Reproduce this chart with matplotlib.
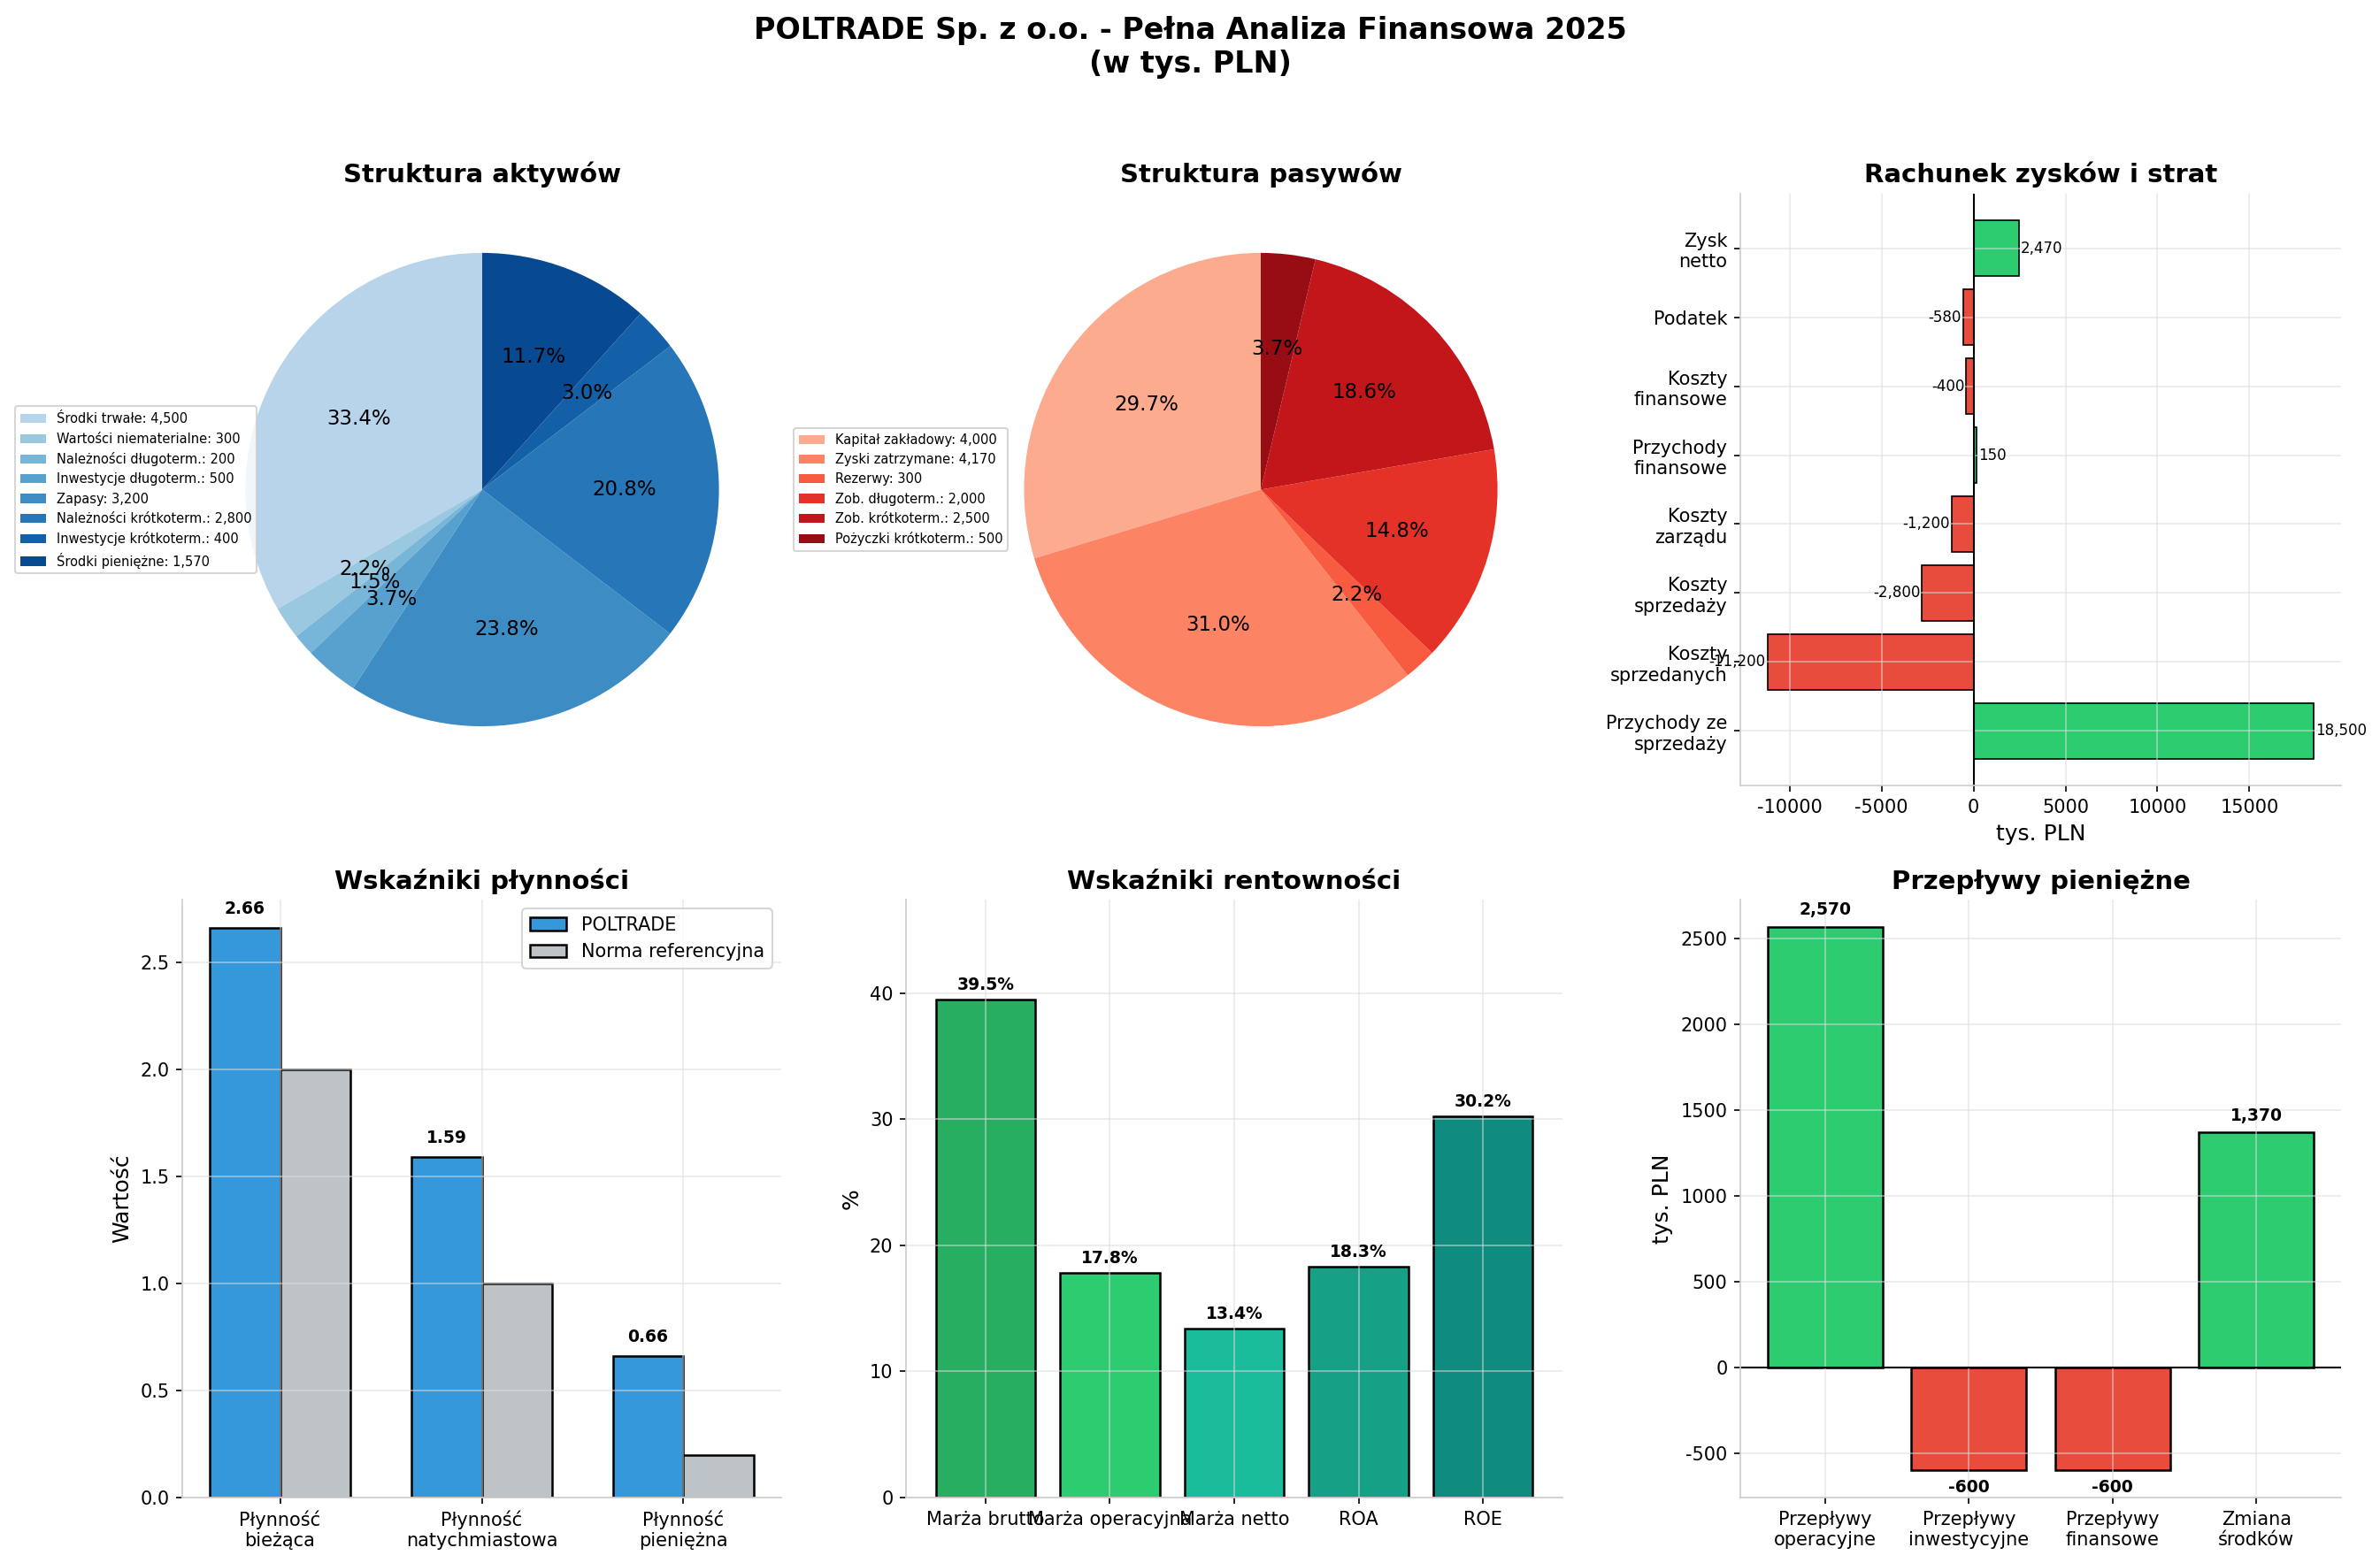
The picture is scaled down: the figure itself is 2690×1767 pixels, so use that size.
import numpy as np
import matplotlib
matplotlib.use("Agg")
import matplotlib.pyplot as plt

plt.rcParams['axes.unicode_minus'] = False

# --- dane (tys. PLN) ---
aktywa_labels = ['Środki trwałe', 'Wartości niematerialne', 'Należności długoterm.',
                 'Inwestycje długoterm.', 'Zapasy', 'Należności krótkoterm.',
                 'Inwestycje krótkoterm.', 'Środki pieniężne']
aktywa_vals = [4500, 300, 200, 500, 3200, 2800, 400, 1570]

pasywa_labels = ['Kapitał zakładowy', 'Zyski zatrzymane', 'Rezerwy',
                 'Zob. długoterm.', 'Zob. krótkoterm.', 'Pożyczki krótkoterm.']
pasywa_vals = [4000, 4170, 300, 2000, 2500, 500]

rzis_labels = ['Przychody ze\nsprzedaży', 'Koszty\nsprzedanych', 'Koszty\nsprzedaży',
               'Koszty\nzarządu', 'Przychody\nfinansowe', 'Koszty\nfinansowe',
               'Podatek', 'Zysk\nnetto']
rzis_vals = [18500, -11200, -2800, -1200, 150, -400, -580, 2470]

plyn_labels = ['Płynność\nbieżąca', 'Płynność\nnatychmiastowa', 'Płynność\npieniężna']
plyn_firma = [2.66, 1.59, 0.66]
plyn_norma = [2.0, 1.0, 0.2]

rent_labels = ['Marża brutto', 'Marża operacyjna', 'Marża netto', 'ROA', 'ROE']
rent_vals = [39.5, 17.8, 13.4, 18.3, 30.2]
rent_colors = ['#27ae60', '#2ecc71', '#1abc9c', '#16a085', '#0f8b7f']

cf_labels = ['Przepływy\noperacyjne', 'Przepływy\ninwestycyjne', 'Przepływy\nfinansowe',
             'Zmiana\nśrodków']
cf_vals = [2570, -600, -600, 1370]

GREEN = '#2ecc71'
RED = '#e74c3c'

W, H = 2690, 1767
fig = plt.figure(figsize=(W / 150, H / 150), dpi=150)
fig.suptitle('POLTRADE Sp. z o.o. - Pełna Analiza Finansowa 2025\n(w tys. PLN)',
             fontsize=16, fontweight='bold', y=0.99)


def pos(x0, y0, x1, y1):
    # piksele (od lewej / od góry) -> ułamki figury
    return [x0 / W, 1 - y1 / H, (x1 - x0) / W, (y1 - y0) / H]


def style(ax):
    ax.spines['top'].set_visible(False)
    ax.spines['right'].set_visible(False)
    ax.spines['left'].set_color('#cccccc')
    ax.spines['bottom'].set_color('#cccccc')
    ax.grid(True, color='#dddddd', alpha=0.6)


# 1. Struktura aktywów
ax1 = fig.add_axes(pos(209, 219, 881, 888))
cols = plt.cm.Blues(np.linspace(0.3, 0.9, len(aktywa_vals)))
wedges, _, _ = ax1.pie(aktywa_vals, colors=cols, autopct='%1.1f%%', startangle=90,
                       textprops={'fontsize': 11})
ax1.set_title('Struktura aktywów', fontsize=14, fontweight='bold')
ax1.legend(wedges, [f'{l}: {v:,}' for l, v in zip(aktywa_labels, aktywa_vals)],
           loc='center left', bbox_to_anchor=(-0.30, 0.5), fontsize=7)
ax1.set_aspect('equal')

# 2. Struktura pasywów
ax2 = fig.add_axes(pos(1089, 219, 1761, 888))
cols = plt.cm.Reds(np.linspace(0.3, 0.9, len(pasywa_vals)))
wedges, _, _ = ax2.pie(pasywa_vals, colors=cols, autopct='%1.1f%%', startangle=90,
                       textprops={'fontsize': 11})
ax2.set_title('Struktura pasywów', fontsize=14, fontweight='bold')
ax2.legend(wedges, [f'{l}: {v:,}' for l, v in zip(pasywa_labels, pasywa_vals)],
           loc='center left', bbox_to_anchor=(-0.30, 0.5), fontsize=7)
ax2.set_aspect('equal')

# 3. Rachunek zysków i strat
ax3 = fig.add_axes(pos(1967, 219, 2646, 888))
y = np.arange(len(rzis_vals))
c = [GREEN if v > 0 else RED for v in rzis_vals]
ax3.barh(y, rzis_vals, color=c, edgecolor='black', linewidth=0.8)
for i, v in enumerate(rzis_vals):
    if v > 0:
        ax3.text(v + 100, i, f'{v:,}', va='center', ha='left', fontsize=8)
    else:
        ax3.text(v - 100, i, f'{v:,}', va='center', ha='right', fontsize=8)
ax3.axvline(0, color='black', linewidth=1)
ax3.set_yticks(y)
ax3.set_yticklabels(rzis_labels)
ax3.set_xlabel('tys. PLN', fontsize=12)
ax3.set_title('Rachunek zysków i strat', fontsize=14, fontweight='bold')
style(ax3)

# 4. Wskaźniki płynności
ax4 = fig.add_axes(pos(206, 1017, 883, 1693))
x = np.arange(len(plyn_labels))
w = 0.35
ax4.bar(x - w / 2, plyn_firma, w, label='POLTRADE', color='#3498db',
        edgecolor='black', linewidth=1.2)
ax4.bar(x + w / 2, plyn_norma, w, label='Norma referencyjna', color='#bdc3c7',
        edgecolor='black', linewidth=1.2)
for xi, v in zip(x, plyn_firma):
    ax4.text(xi - w / 2, v + 0.05, f'{v:.2f}', ha='center', va='bottom',
             fontsize=9, fontweight='bold')
ax4.set_xticks(x)
ax4.set_xticklabels(plyn_labels)
ax4.set_ylabel('Wartość', fontsize=12)
ax4.set_title('Wskaźniki płynności', fontsize=14, fontweight='bold')
ax4.legend(loc='upper right')
style(ax4)

# 5. Wskaźniki rentowności
ax5 = fig.add_axes(pos(1024, 1017, 1766, 1693))
ax5.bar(rent_labels, rent_vals, color=rent_colors, edgecolor='black', linewidth=1.2)
for i, v in enumerate(rent_vals):
    ax5.text(i, v + 0.5, f'{v:.1f}%', ha='center', va='bottom',
             fontsize=9, fontweight='bold')
ax5.set_ylim(0, max(rent_vals) * 1.2)
ax5.set_ylabel('%', fontsize=12)
ax5.set_title('Wskaźniki rentowności', fontsize=14, fontweight='bold')
style(ax5)

# 6. Przepływy pieniężne
ax6 = fig.add_axes(pos(1967, 1017, 2646, 1693))
c = [GREEN if v > 0 else RED for v in cf_vals]
ax6.bar(cf_labels, cf_vals, color=c, edgecolor='black', linewidth=1.2)
for i, v in enumerate(cf_vals):
    if v > 0:
        ax6.text(i, v + 50, f'{v:,}', ha='center', va='bottom',
                 fontsize=9, fontweight='bold')
    else:
        ax6.text(i, v - 50, f'{v:,}', ha='center', va='top',
                 fontsize=9, fontweight='bold')
ax6.axhline(0, color='black', linewidth=1)
ax6.set_ylabel('tys. PLN', fontsize=12)
ax6.set_title('Przepływy pieniężne', fontsize=14, fontweight='bold')
style(ax6)

fig.savefig('out.png', dpi=150)
